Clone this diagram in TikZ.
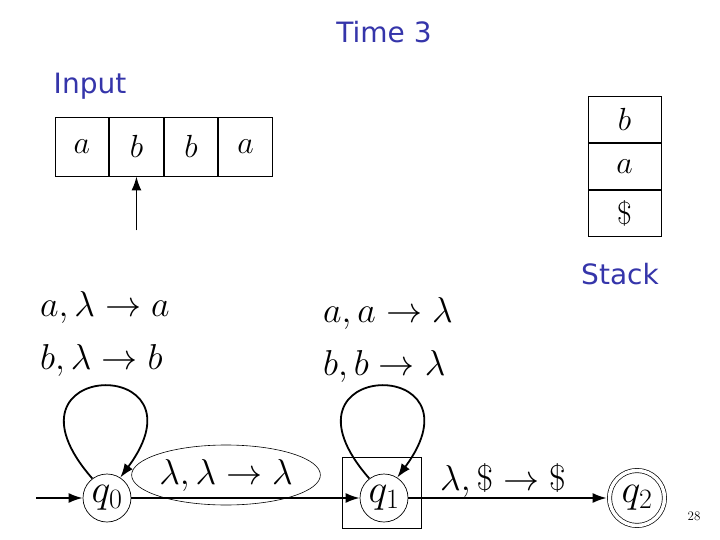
\RequirePackage{fix-cm}
\documentclass[tikz,border=0pt]{standalone}
\usepackage{fontspec}
\setsansfont{DejaVu Sans}
\usepackage{xcolor}
\usetikzlibrary{positioning,shapes.geometric,arrows.meta}
\definecolor{slideblue}{HTML}{3535AA}

\begin{document}
\begin{tikzpicture}[
	x=1pt, y=-1pt,
	every node/.style={inner sep=0pt},
	heading/.style={font=\sffamily\fontsize{28}{32}\selectfont, text=slideblue},
	cell/.style={draw, line width=0.8pt, minimum width=53.75pt, minimum height=59pt, font=\fontsize{32}{36}\selectfont},
	slot/.style={draw, line width=0.8pt, minimum width=73pt, minimum height=46.3pt, font=\fontsize{32}{36}\selectfont},
	state/.style={draw, circle, line width=0.7pt, minimum size=48pt, font=\fontsize{40}{44}\selectfont},
	accept/.style={state, minimum size=55pt, double, double distance=3.5pt},
	rule/.style={font=\fontsize{36}{42}\selectfont},
	move/.style={-{Latex[length=14pt,width=10pt]}, line width=1.8pt}
]
\useasboundingbox (0,0) rectangle (720,540);

\node[heading] (time) at (384,32) {Time 3};
\node[heading] (input) at (90,86) {Input};
\node[heading] (stack) at (620,274) {Stack};

\node[cell] (c1) at (81.9,146.5) {$a$};
\node[cell, right=0pt of c1] (c2) {$b$};
\node[cell, right=0pt of c2] (c3) {$b$};
\node[cell, right=0pt of c3] (c4) {$a$};
\coordinate (head) at ([yshift=-54pt]c2.south);
\draw[move] (head) -- (c2.south);

\node[slot] (s1) at (624.5,119.2) {$b$};
\node[slot, below=0pt of s1] (s2) {$a$};
\node[slot, below=0pt of s2] (s3) {$\$$};

\node[rule, anchor=base west] (r1) at (40,316) {$a, \lambda \to a$};
\node[rule, anchor=base west] (r2) at (40,369) {$b, \lambda \to b$};
\node[rule, anchor=base west] (r3) at (323,322) {$a, a \to \lambda$};
\node[rule, anchor=base west] (r4) at (323,375) {$b, b \to \lambda$};

\node[state] (q0) at (107,498) {$q_0$};
\node[state] (q1) at (384,498) {$q_1$};
\node[accept] (q2) at (637,498) {$q_2$};
\node[draw, line width=0.7pt, minimum width=79pt, minimum height=71pt] (box) at (381.5,492.5) {};
\node[rule, draw, ellipse, line width=0.6pt, minimum width=162pt, minimum height=60pt] (e01) at (226,475) {$\lambda, \lambda \to \lambda$};
\node[rule, anchor=base west] (l12) at (440,490) {$\lambda, \$ \to \$$};
\node[font=\fontsize{13}{15}\selectfont] (page) at (694,516) {28};

\coordinate (init) at (36,498);
\draw[move] (init) -- (q0);
\draw[move] (q0) -- (q1);
\draw[move, shorten >=2.5pt] (q1) -- (q2);
\draw[move] (q0.127) .. controls +(-105,-120) and +(92,-124) .. (q0.57);
\draw[move] (q1.127) .. controls +(-105,-120) and +(92,-124) .. (q1.57);
\end{tikzpicture}
\end{document}
